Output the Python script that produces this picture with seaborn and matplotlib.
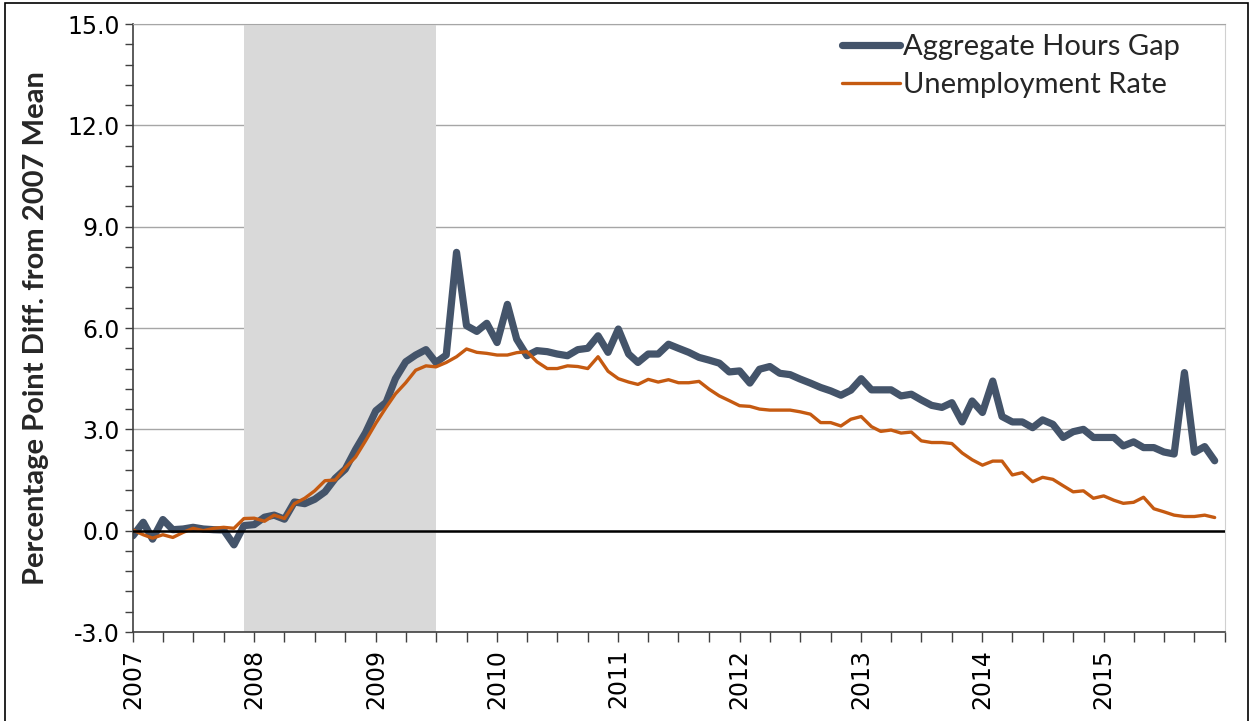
import numpy as np
import pandas as pd
import seaborn as sns
import matplotlib.pyplot as plt
from matplotlib.ticker import MultipleLocator, FormatStrFormatter
from matplotlib.patches import Rectangle
import matplotlib.dates as mdates

# monthly observations, Jan 2007 - Dec 2015
months = pd.date_range("2007-01-01", periods=108, freq="MS")

hours_gap = [
    -0.15, 0.25, -0.25, 0.33, 0.03, 0.05, 0.10, 0.05, 0.03, 0.02, -0.42, 0.15,
    0.18, 0.40, 0.46, 0.34, 0.85, 0.80, 0.93, 1.15, 1.55, 1.82, 2.40, 2.90,
    3.55, 3.80, 4.50, 5.00, 5.20, 5.36, 4.98, 5.20, 8.24, 6.07, 5.90, 6.14,
    5.57, 6.70, 5.67, 5.18, 5.33, 5.30, 5.23, 5.18, 5.36, 5.40, 5.77, 5.28,
    5.97, 5.23, 4.98, 5.23, 5.23, 5.52, 5.40, 5.28, 5.13, 5.05, 4.96, 4.70,
    4.73, 4.37, 4.78, 4.86, 4.66, 4.62, 4.49, 4.37, 4.24, 4.14, 4.01, 4.16,
    4.50, 4.17, 4.17, 4.17, 3.99, 4.04, 3.87, 3.71, 3.65, 3.79, 3.22, 3.84,
    3.50, 4.43, 3.38, 3.22, 3.22, 3.05, 3.28, 3.15, 2.76, 2.93, 3.00, 2.76,
    2.76, 2.76, 2.51, 2.63, 2.46, 2.46, 2.33, 2.27, 4.68, 2.32, 2.49, 2.07,
]

unemployment = [
    0.02, -0.12, -0.22, -0.12, -0.20, -0.05, 0.07, 0.00, 0.07, 0.10, 0.07, 0.36,
    0.37, 0.28, 0.46, 0.36, 0.80, 0.96, 1.18, 1.48, 1.50, 1.86, 2.18, 2.66,
    3.18, 3.65, 4.05, 4.38, 4.75, 4.88, 4.85, 4.98, 5.15, 5.38, 5.28, 5.25,
    5.20, 5.20, 5.27, 5.30, 5.00, 4.80, 4.80, 4.88, 4.86, 4.80, 5.15, 4.72,
    4.50, 4.40, 4.33, 4.48, 4.40, 4.47, 4.38, 4.38, 4.42, 4.19, 3.99, 3.85,
    3.70, 3.68, 3.60, 3.57, 3.57, 3.57, 3.52, 3.45, 3.20, 3.20, 3.10, 3.30,
    3.38, 3.08, 2.94, 2.98, 2.89, 2.92, 2.66, 2.61, 2.61, 2.58, 2.30, 2.10,
    1.94, 2.06, 2.06, 1.65, 1.72, 1.45, 1.58, 1.52, 1.33, 1.15, 1.18, 0.96,
    1.03, 0.90, 0.81, 0.84, 0.99, 0.65, 0.56, 0.46, 0.42, 0.42, 0.46, 0.39,
]

series_names = ["Aggregate Hours Gap", "Unemployment Rate"]
year_labels = [str(y) for y in range(2007, 2016)]
recession = ("2007-12-01", "2009-07-01")

df = pd.DataFrame({"month": months, series_names[0]: hours_gap, series_names[1]: unemployment})
long_df = df.melt(id_vars="month", var_name="series", value_name="value")

sns.set_style("ticks")
plt.rcParams["font.family"] = ["DejaVu Sans"]

fig = plt.figure(figsize=(12.52, 7.21), dpi=100)
ax = fig.add_axes([0.1062, 0.1234, 0.8722, 0.8433])

# recession shading and grid behind the lines
ax.set_axisbelow(True)
ax.axvspan(pd.Timestamp(recession[0]), pd.Timestamp(recession[1]), color="#d9d9d9", lw=0, zorder=1)
ax.yaxis.grid(True, color="#a6a6a6", lw=1.0, zorder=0.5)

sns.lineplot(data=long_df, x="month", y="value", hue="series", size="series",
             palette={series_names[0]: "#44546a", series_names[1]: "#c55a11"},
             sizes={series_names[0]: 5.2, series_names[1]: 2.4},
             ax=ax, zorder=2, solid_joinstyle="round", solid_capstyle="round")

ax.axhline(0, color="black", lw=1.8, zorder=3)

ax.set_ylim(-3, 15)
ax.set_xlim(pd.Timestamp("2007-01-01"), pd.Timestamp("2016-01-01"))
ax.yaxis.set_major_locator(MultipleLocator(3))
ax.yaxis.set_minor_locator(MultipleLocator(0.6))
ax.yaxis.set_major_formatter(FormatStrFormatter("%.1f"))

ax.set_xticks([pd.Timestamp(f"{y}-01-01") for y in year_labels])
ax.set_xticklabels(year_labels, rotation=90)
ax.xaxis.set_minor_locator(mdates.MonthLocator(bymonth=[1, 4, 7, 10]))

ax.tick_params(axis="both", which="both", direction="out", length=6, width=1,
               color="#404040", labelsize=17, labelcolor="black")
ax.tick_params(axis="x", which="both", length=7, pad=5)

for side in ["left", "bottom"]:
    ax.spines[side].set_color("#404040")
    ax.spines[side].set_linewidth(1.2)
ax.spines["top"].set_color("#a6a6a6")
ax.spines["right"].set_color("#d0d0d0")

ax.set_xlabel("")
ax.set_ylabel("Percentage Point Diff. from 2007 Mean", fontsize=21,
              fontweight="bold", family=["Lato", "DejaVu Sans"])
ax.yaxis.set_label_coords(-0.077, 0.5)

handles, labels = ax.get_legend_handles_labels()
ax.legend(handles, labels, loc="upper left", bbox_to_anchor=(0.633, 1.012),
          frameon=False, handlelength=2.0, handletextpad=0.1, labelspacing=0.42,
          borderpad=0.1, prop={"family": ["Lato", "DejaVu Sans"], "size": 21})

fig.add_artist(Rectangle((0.004, -0.01), 0.993, 1.006, transform=fig.transFigure,
                         fill=False, ec="black", lw=1.2))

fig.savefig("out.png", dpi=100)
